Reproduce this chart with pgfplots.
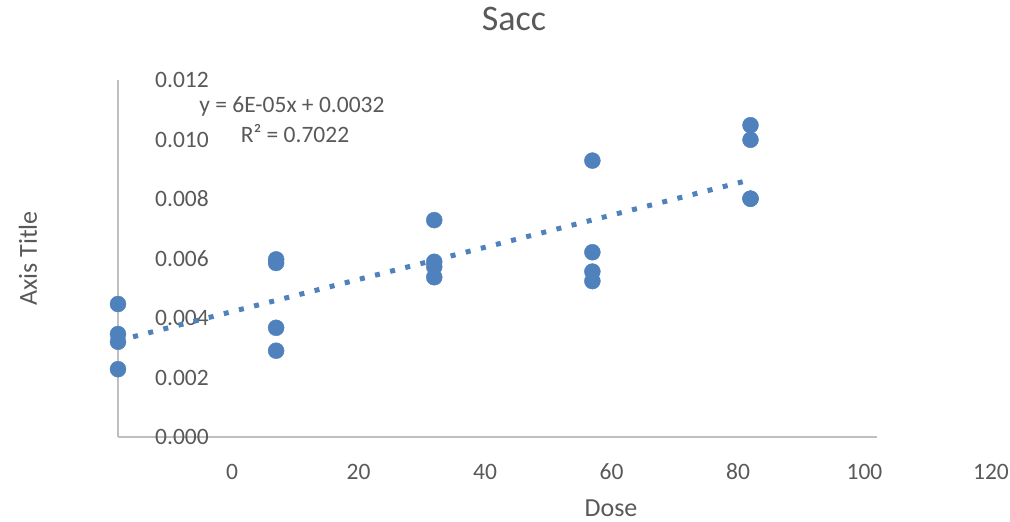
\documentclass[border=0pt]{standalone}
\usepackage{pgfplots}
\usepackage{pgfplotstable}
\pgfplotsset{compat=1.18}
\usepackage{fontspec}
\setmainfont{Carlito}

\definecolor{txtgray}{HTML}{595959}
\definecolor{axgray}{HTML}{BFBFBF}
\definecolor{ptblue}{HTML}{4F81BD}

\pgfplotstableread{
x y
0 0.00447
0 0.00346
0 0.00320
0 0.00228
25 0.00597
25 0.00585
25 0.00367
25 0.00290
50 0.00729
50 0.00589
50 0.00572
50 0.00537
75 0.00929
75 0.00621
75 0.00556
75 0.00524
100 0.01048
100 0.00999
100 0.00801
100 0.00801
}\sacc

\begin{document}
\begin{tikzpicture}
\useasboundingbox (0,0) rectangle (1010pt,522pt);
\begin{axis}[
  at={(118pt,85pt)}, anchor=south west,
  scale only axis, width=759pt, height=357pt,
  xmin=0, xmax=120, ymin=0, ymax=0.012,
  axis x line=bottom, axis y line=left,
  axis line style={draw=axgray, line width=1.5pt, -},
  major tick length=0pt,
  xtick={0,20,...,120},
  ytick={0,0.002,...,0.012},
  scaled y ticks=false,
  /pgf/number format/assume math mode=true,
  yticklabel style={/pgf/number format/fixed, /pgf/number format/fixed zerofill,
    /pgf/number format/precision=3, anchor=center, xshift=64pt},
  tick label style={font=\fontsize{23.5}{28}\selectfont, text=txtgray},
  xticklabel style={anchor=center, xshift=114pt, yshift=-35pt},
  clip=false,
  title={Sacc},
  title style={at={(axis description cs:0.5217,1.154)}, anchor=center,
    font=\fontsize{36}{43}\selectfont, text=txtgray},
  xlabel={Dose},
  xlabel style={at={(axis description cs:0.6495,-0.1989)}, anchor=center,
    font=\fontsize{26}{31}\selectfont, text=txtgray},
  ylabel={Axis Title},
  ylabel style={at={(axis description cs:-0.1185,0.5)}, anchor=center,
    font=\fontsize{26}{31}\selectfont, text=txtgray},
]
% linear trendline
\addplot[ptblue, line width=5pt, dash pattern=on 5pt off 10.6pt, line cap=butt, no marks]
  table[x=x, y={create col/linear regression={y=y}}] {\sacc};
% measurements
\addplot[only marks, mark=*, mark size=8pt, mark options={fill=ptblue, draw=ptblue}]
  table[x=x, y=y] {\sacc};
\node[text=txtgray, font=\fontsize{23.5}{28}\selectfont, anchor=center]
  at (axis description cs:0.2292,0.9258) {y = 6E-05x + 0.0032};
\node[text=txtgray, font=\fontsize{23.5}{28}\selectfont, anchor=center]
  at (axis description cs:0.2332,0.8487) {R² = 0.7022};
\end{axis}
\end{tikzpicture}
\end{document}
